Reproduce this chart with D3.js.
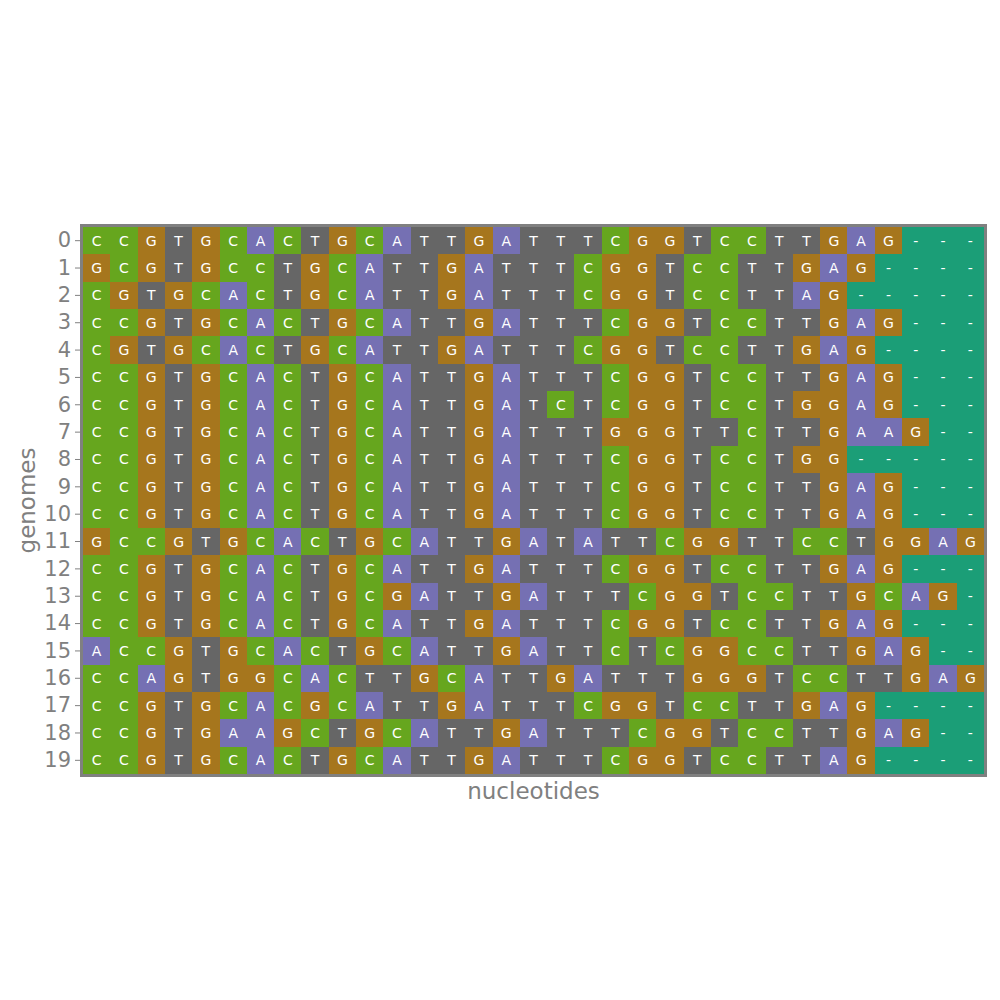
<!DOCTYPE html>
<html><head><meta charset="utf-8">
<script src="https://cdn.jsdelivr.net/npm/d3@7"></script>
<style>body{margin:0;background:#fff}</style>
</head><body>
<svg id="c" width="1000" height="1000"></svg>
<script>
const genomes = ["0","1","2","3","4","5","6","7","8","9","10","11","12","13","14","15","16","17","18","19"];
const sequences = [
"CCGTGCACTGCATTGATTTCGGTCCTTGAG---",
"GCGTGCCTGCATTGATTTCGGTCCTTGAG----",
"CGTGCACTGCATTGATTTCGGTCCTTAG-----",
"CCGTGCACTGCATTGATTTCGGTCCTTGAG---",
"CGTGCACTGCATTGATTTCGGTCCTTGAG----",
"CCGTGCACTGCATTGATTTCGGTCCTTGAG---",
"CCGTGCACTGCATTGATCTCGGTCCTGGAG---",
"CCGTGCACTGCATTGATTTGGGTTCTTGAAG--",
"CCGTGCACTGCATTGATTTCGGTCCTGG-----",
"CCGTGCACTGCATTGATTTCGGTCCTTGAG---",
"CCGTGCACTGCATTGATTTCGGTCCTTGAG---",
"GCCGTGCACTGCATTGATATTCGGTTCCTGGAG",
"CCGTGCACTGCATTGATTTCGGTCCTTGAG---",
"CCGTGCACTGCGATTGATTTCGGTCCTTGCAG-",
"CCGTGCACTGCATTGATTTCGGTCCTTGAG---",
"ACCGTGCACTGCATTGATTCTCGGCCTTGAG--",
"CCAGTGGCACTTGCATTGATTTGGGTCCTTGAG",
"CCGTGCACGCATTGATTTCGGTCCTTGAG----",
"CCGTGAAGCTGCATTGATTTCGGTCCTTGAG--",
"CCGTGCACTGCATTGATTTCGGTCCTTAG----"
];
const nucleotides = ["A","C","G","T","-"];
const nucColors = ["#7570b3","#66a61e","#a6761d","#666666","#1b9e77"];

const svg = d3.select("#c");
const x0 = 83, x1 = 984, y0 = 227, y1 = 774;
const nCols = d3.max(sequences, s => s.length);
const x = d3.scaleBand().domain(d3.range(nCols)).range([x0, x1]).padding(0);
const y = d3.scaleBand().domain(genomes).range([y0, y1]).padding(0);
const color = d3.scaleOrdinal().domain(nucleotides).range(nucColors);

const cells = [];
sequences.forEach((s, r) => s.split("").forEach((ch, c) => cells.push({r: genomes[r], c, ch})));

const g = svg.append("g");
g.selectAll("rect.cell").data(cells).join("rect")
  .attr("x", d => Math.round(x(d.c))).attr("y", d => Math.round(y(d.r)))
  .attr("width", d => Math.round(x(d.c) + x.bandwidth()) - Math.round(x(d.c)))
  .attr("height", d => Math.round(y(d.r) + y.bandwidth()) - Math.round(y(d.r)))
  .attr("shape-rendering", "crispEdges")
  .attr("fill", d => color(d.ch));
g.selectAll("text.cell").data(cells).join("text")
  .attr("x", d => x(d.c) + x.bandwidth()/2).attr("y", d => y(d.r) + y.bandwidth()/2)
  .attr("text-anchor", "middle").attr("dominant-baseline", "central")
  .attr("font-family", "DejaVu Sans").attr("font-size", 14)
  .attr("fill", "#ffffff")
  .text(d => d.ch);

svg.append("rect").attr("x", x0 - 1.5).attr("y", y0 - 1.5)
  .attr("width", x1 - x0 + 3).attr("height", y1 - y0 + 3)
  .attr("fill", "none").attr("stroke", "#808080").attr("stroke-width", 3);

const yAxis = svg.append("g").attr("transform", `translate(${x0 - 3},0)`)
  .call(d3.axisLeft(y).tickSize(5).tickPadding(4));
yAxis.select(".domain").remove();
yAxis.selectAll("line").attr("stroke", "#808080");
yAxis.selectAll("text").attr("fill", "#808080").attr("font-family", "DejaVu Sans").attr("font-size", 21);

svg.append("text").attr("x", (x0 + x1)/2).attr("y", 799)
  .attr("text-anchor", "middle").attr("font-family", "DejaVu Sans").attr("font-size", 23)
  .attr("fill", "#808080").text("nucleotides");
svg.append("text").attr("transform", `translate(35,${(y0+y1)/2}) rotate(-90)`)
  .attr("text-anchor", "middle").attr("font-family", "DejaVu Sans").attr("font-size", 23)
  .attr("fill", "#808080").text("genomes");
</script>
</body></html>
